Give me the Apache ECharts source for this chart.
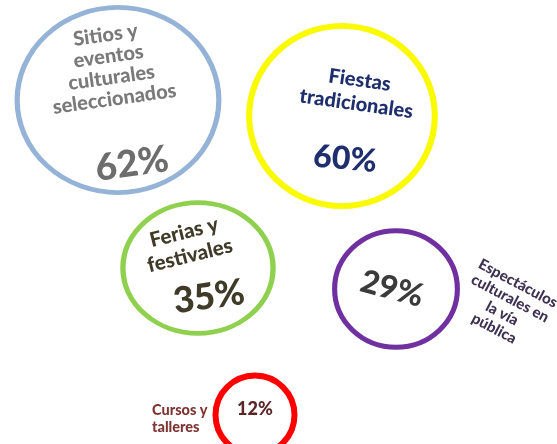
<!DOCTYPE html>
<html>
<head>
<meta charset="utf-8">
<script src="https://cdn.jsdelivr.net/npm/echarts@6/dist/echarts.min.js"></script>
<style>
  html, body { margin: 0; padding: 0; background: #fff; }
  #chart { width: 557px; height: 444px; }
</style>
</head>
<body>
<div id="chart"></div>
<script>
// datos
const categories = [
  'Sitios y\neventos\nculturales\nseleccionados',
  'Fiestas\ntradicionales',
  'Ferias y\nfestivales',
  'Espectáculos\nculturales en\nla vía\npública',
  'Cursos y\ntalleres'
]
const values = [62, 60, 35, 29, 12]

// disposición de las burbujas (px)
const centerX = [118, 342, 198, 396, 255]
const centerY = [100, 116, 268, 289, 415]
const stretch = [[1.09, 1.0], [1.02, 0.99], [1.08, 0.94], [0.97, 0.92], [0.97, 0.97]]
const ringColors = ['#95b3d7', '#fafa00', '#8fd14f', '#7030a0', '#ff0000']
const ringWidths = [5, 6, 5, 5, 6]
// etiqueta del nombre: desplazamiento en pantalla, giro, color, tamaño
const nameOffset = [[-8, -33], [16, -24], [-11, -24], [110, 17], [-103, 4]]
const nameRotate = [8, -8, 14, -28, 0]
const nameAlign = ['center', 'center', 'center', 'center', 'left']
const nameColors = ['#7a7a7a', '#1f2f6e', '#403b29', '#3f3151', '#7f3434']
const nameSizes = [20, 20, 20.5, 15, 14.5]
const nameLineH = [21.5, 24, 24, 17, 17]
// etiqueta del porcentaje
const valueOffset = [[14, 64], [3, 43], [11, 29], [-4, 0], [0, -6]]
const valueRotate = [8, -5, 8, -15, 0]
const valueColors = ['#6d6d6d', '#1f2f6e', '#403b29', '#3b3b3b', '#5c2626']
const valueSizes = [37, 32, 36, 32, 18]

const font = 'Lato, "Open Sans", sans-serif'
const k = 23.5

// ECharts gira también el offset: se pasa a coordenadas del texto girado
function toLabelOffset (d, rot) {
  const r = rot * Math.PI / 180
  const c = Math.cos(r)
  const s = Math.sin(r)
  return [d[0] * c - d[1] * s, d[0] * s + d[1] * c]
}

const chart = echarts.init(document.getElementById('chart'))

const ringData = values.map((v, i) => ({
  value: [centerX[i], centerY[i], v],
  symbolSize: [k * Math.sqrt(v) * stretch[i][0], k * Math.sqrt(v) * stretch[i][1]],
  itemStyle: { color: '#fff', borderColor: ringColors[i], borderWidth: ringWidths[i], opacity: 1 },
  label: {
    show: true,
    position: 'inside',
    formatter: categories[i],
    offset: toLabelOffset(nameOffset[i], nameRotate[i]),
    rotate: nameRotate[i],
    color: nameColors[i],
    fontSize: nameSizes[i],
    lineHeight: nameLineH[i],
    fontWeight: 900,
    fontFamily: font,
    align: nameAlign[i],
    verticalAlign: 'middle',
    opacity: 1
  }
}))

const valueData = values.map((v, i) => ({
  value: [centerX[i], centerY[i], v],
  label: {
    show: true,
    position: 'inside',
    formatter: v + '%',
    offset: toLabelOffset(valueOffset[i], valueRotate[i]),
    rotate: valueRotate[i],
    color: valueColors[i],
    fontSize: valueSizes[i],
    fontWeight: 900,
    fontFamily: font,
    align: 'center',
    verticalAlign: 'middle',
    opacity: 1
  }
}))

chart.setOption({
  animation: false,
  backgroundColor: '#fff',
  grid: { left: 0, right: 0, top: 0, bottom: 0 },
  xAxis: { type: 'value', min: 0, max: 557, show: false },
  yAxis: { type: 'value', min: 0, max: 444, inverse: true, show: false },
  series: [
    {
      type: 'scatter',
      data: ringData,
      symbol: 'circle',
      silent: true,
      z: 2
    },
    {
      type: 'scatter',
      data: valueData,
      symbolSize: 1,
      itemStyle: { color: 'rgba(0,0,0,0)', opacity: 1 },
      silent: true,
      z: 3
    }
  ]
})
</script>
</body>
</html>
